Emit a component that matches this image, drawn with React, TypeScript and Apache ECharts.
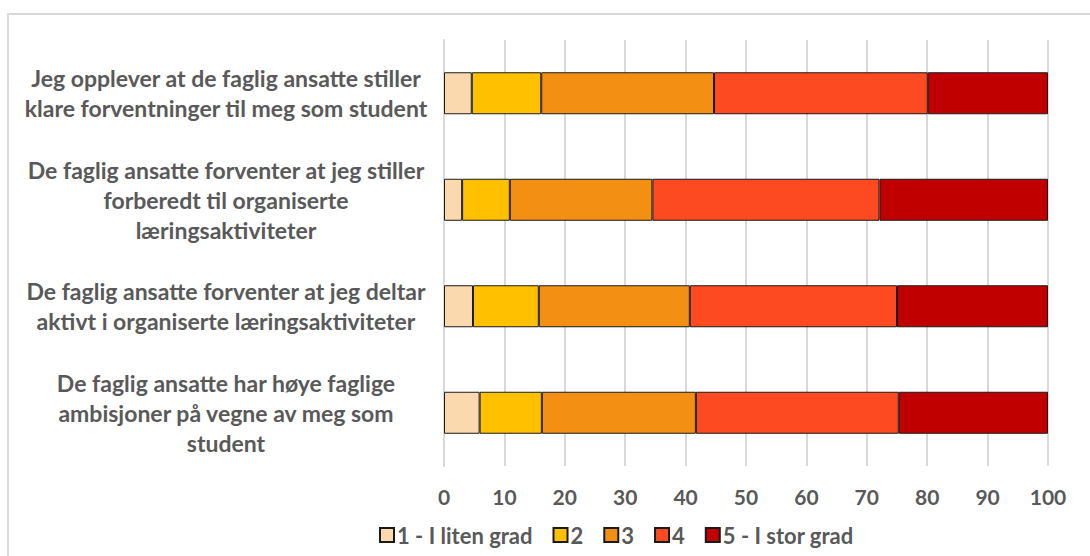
import React, { useEffect, useRef } from "react";
import * as echarts from "echarts";

const categories = [
  "Jeg opplever at de faglig ansatte stiller\nklare forventninger til meg som student",
  "De faglig ansatte forventer at jeg stiller\nforberedt til organiserte\nlæringsaktiviteter",
  "De faglig ansatte forventer at jeg deltar\naktivt i organiserte læringsaktiviteter",
  "De faglig ansatte har høye faglige\nambisjoner på vegne av meg som\nstudent",
];

const seriesNames = ["1 - I liten grad", "2", "3", "4", "5 - I stor grad"];
const s1 = [4.6, 3.0, 4.8, 5.9];
const s2 = [11.5, 7.9, 10.9, 10.3];
const s3 = [28.6, 23.6, 25.0, 25.5];
const s4 = [35.4, 37.6, 34.3, 33.6];
const s5 = [19.9, 27.9, 25.0, 24.7];
const seriesValues = [s1, s2, s3, s4, s5];
const colors = ["#FBD9AE", "#FFC000", "#F39014", "#FD4A20", "#C00000"];

const FONT = "Lato, 'Liberation Sans', sans-serif";
const TEXT = "#595959";

export default function App() {
  const ref = useRef<HTMLDivElement>(null);
  useEffect(() => {
    if (!ref.current) return;
    const chart = echarts.init(ref.current, null, { renderer: "svg" });
    chart.setOption({
      animation: false,
      backgroundColor: "#ffffff",
      graphic: [
        {
          type: "rect",
          shape: { x: 8, y: 14, width: 1100, height: 600 },
          style: { fill: "none", stroke: "#d9d9d9", lineWidth: 2 },
          silent: true,
        },
      ],
      grid: { left: 444, right: 42, top: 40, bottom: 90, containLabel: false },
      xAxis: {
        type: "value",
        min: 0,
        max: 100,
        interval: 10,
        axisLine: { show: false },
        axisTick: { show: false },
        splitLine: { show: true, lineStyle: { color: "#d9d9d9", width: 2 } },
        axisLabel: {
          color: TEXT,
          fontFamily: FONT,
          fontWeight: "bold",
          fontSize: 21,
          margin: 20,
        },
      },
      yAxis: {
        type: "category",
        data: categories,
        inverse: true,
        axisLine: { show: true, lineStyle: { color: "#d9d9d9", width: 2 } },
        axisTick: { show: false },
        axisLabel: {
          color: TEXT,
          fontFamily: FONT,
          fontWeight: "bold",
          fontSize: 23,
          lineHeight: 30,
          align: "center",
          margin: 218,
        },
      },
      legend: {
        data: seriesNames,
        left: 374,
        top: 519,
        itemWidth: 14,
        itemHeight: 14,
        itemGap: 20,
        icon: "rect",
        textStyle: {
          color: TEXT,
          fontFamily: FONT,
          fontWeight: "bold",
          fontSize: 22,
          padding: [0, 0, 0, -2],
        },
      },
      series: seriesNames.map((name, i) => ({
        name,
        type: "bar",
        stack: "total",
        barWidth: 42,
        data: seriesValues[i],
        itemStyle: { color: colors[i], borderColor: "#1a1a1a", borderWidth: 1 },
      })),
    });
    return () => chart.dispose();
  }, []);
  return (
    <div
      ref={ref}
      style={{ position: "absolute", left: 0, top: 0, width: 1090, height: 556 }}
    />
  );
}
